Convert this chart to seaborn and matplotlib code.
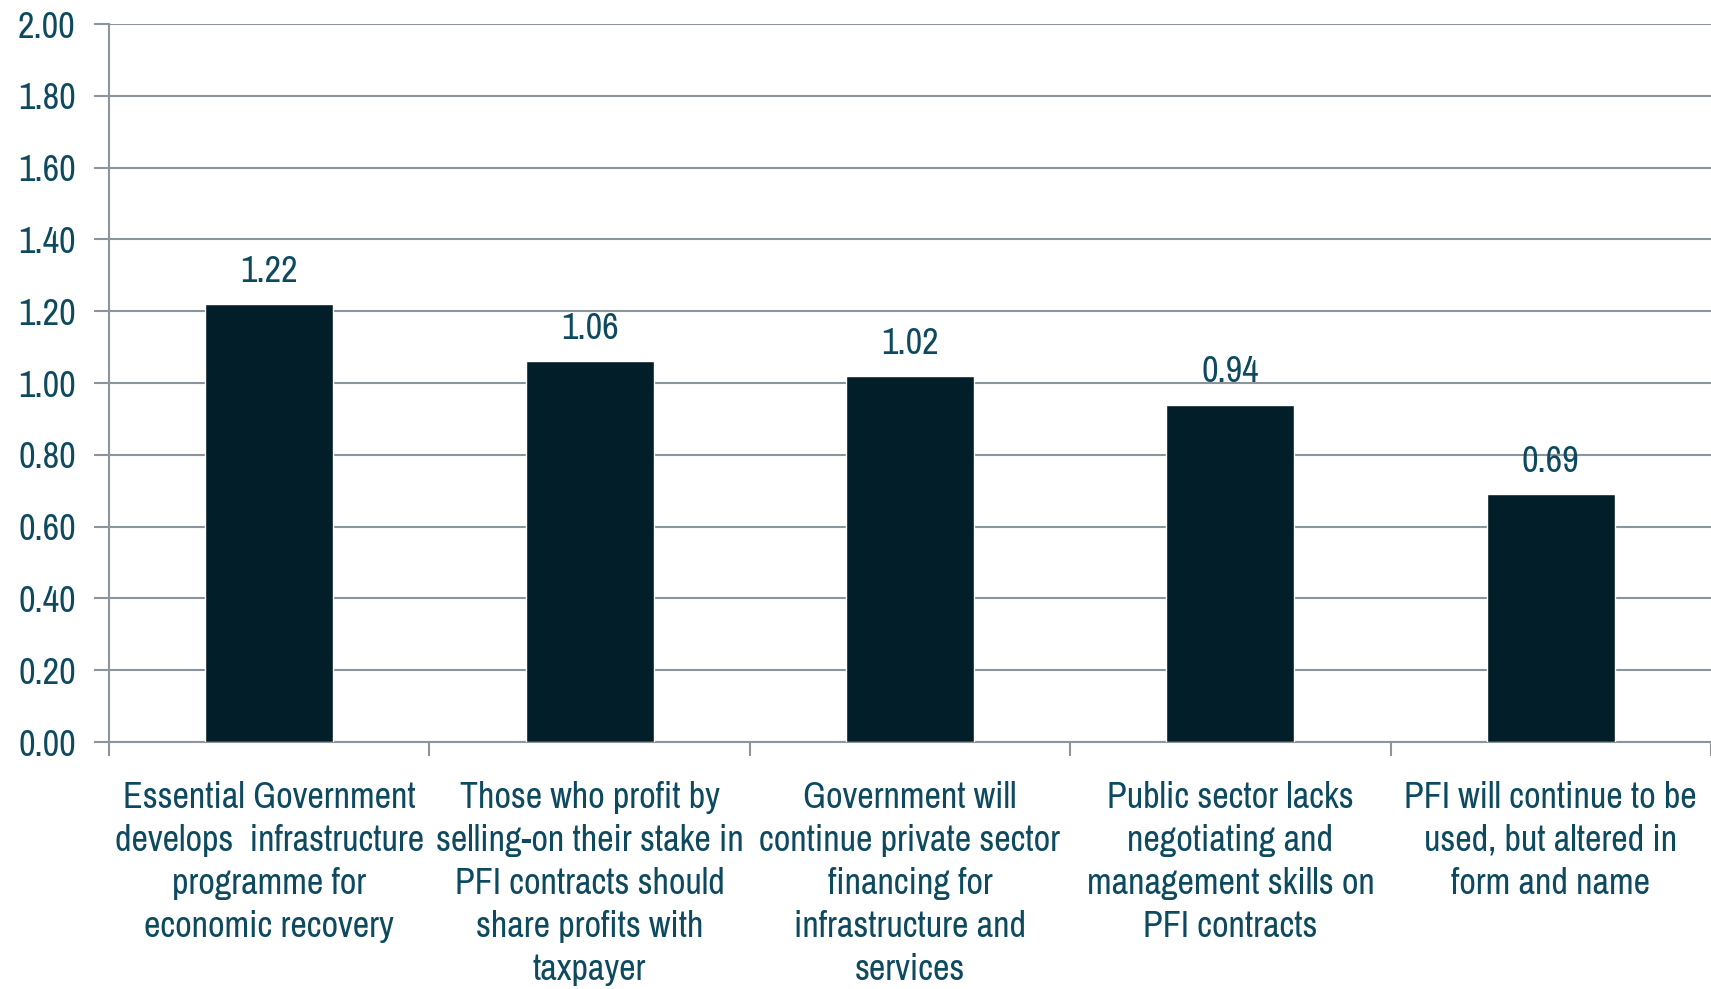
from matplotlib import pyplot as plt
from matplotlib import ticker as ticker
import pandas as pd
import seaborn as sns

sns.set_style('white')

categories = [
    'Essential Government\ndevelops  infrastructure\nprogramme for\neconomic recovery',
    'Those who profit by\nselling-on their stake in\nPFI contracts should\nshare profits with\ntaxpayer',
    'Government will\ncontinue private sector\nfinancing for\ninfrastructure and\nservices',
    'Public sector lacks\nnegotiating and\nmanagement skills on\nPFI contracts',
    'PFI will continue to be\nused, but altered in\nform and name',
]
scores = [1.22, 1.06, 1.02, 0.94, 0.69]

# narrow face close to the Arial Narrow of the original
plt.rcParams['font.family'] = ['Archivo Narrow', 'DejaVu Sans']

text_col = '#0d4a5f'
grid_col = '#8c949c'
bar_col = '#021e28'
fs = 26

df = pd.DataFrame({'cat': categories, 'score': scores})

fig = plt.figure(figsize=(17.11, 9.89), dpi=100)
ax = fig.add_axes([0.0637, 0.2497, 0.9363, 0.726])

sns.barplot(x='cat', y='score', data=df, color=bar_col, width=0.4,
            saturation=1, ax=ax, zorder=3)

ax.set(xlim=(-0.5, 4.5), ylim=(0, 2.0))
ax.yaxis.set_major_locator(ticker.MultipleLocator(0.2))
ax.yaxis.set_major_formatter(ticker.FormatStrFormatter('%.2f'))
ax.grid(True, axis='y', color=grid_col, lw=1.5, zorder=0)
ax.set_axisbelow(True)

for s in ['top', 'right']:
    ax.spines[s].set_visible(False)
for s in ['left', 'bottom']:
    ax.spines[s].set_color(grid_col)
    ax.spines[s].set_linewidth(1.5)

ax.tick_params(axis='y', direction='out', length=11, width=1.5, color=grid_col,
               left=True, labelsize=fs, labelcolor=text_col, pad=13)
ax.tick_params(axis='x', which='major', length=0, labelsize=fs,
               labelcolor=text_col, pad=28)
ax.xaxis.set_minor_locator(ticker.FixedLocator([-0.5, 0.5, 1.5, 2.5, 3.5, 4.5]))
ax.tick_params(axis='x', which='minor', direction='out', length=10, width=1.5,
               color=grid_col, bottom=True)
for lab in ax.get_xticklabels():
    lab.set_linespacing(1.37)
ax.set(xlabel='', ylabel='')

for i, v in enumerate(scores):
    ax.text(i, v + 0.045, '{:.2f}'.format(v), ha='center', va='bottom',
            fontsize=fs, color=text_col)

plt.savefig('out.png', dpi=100)
